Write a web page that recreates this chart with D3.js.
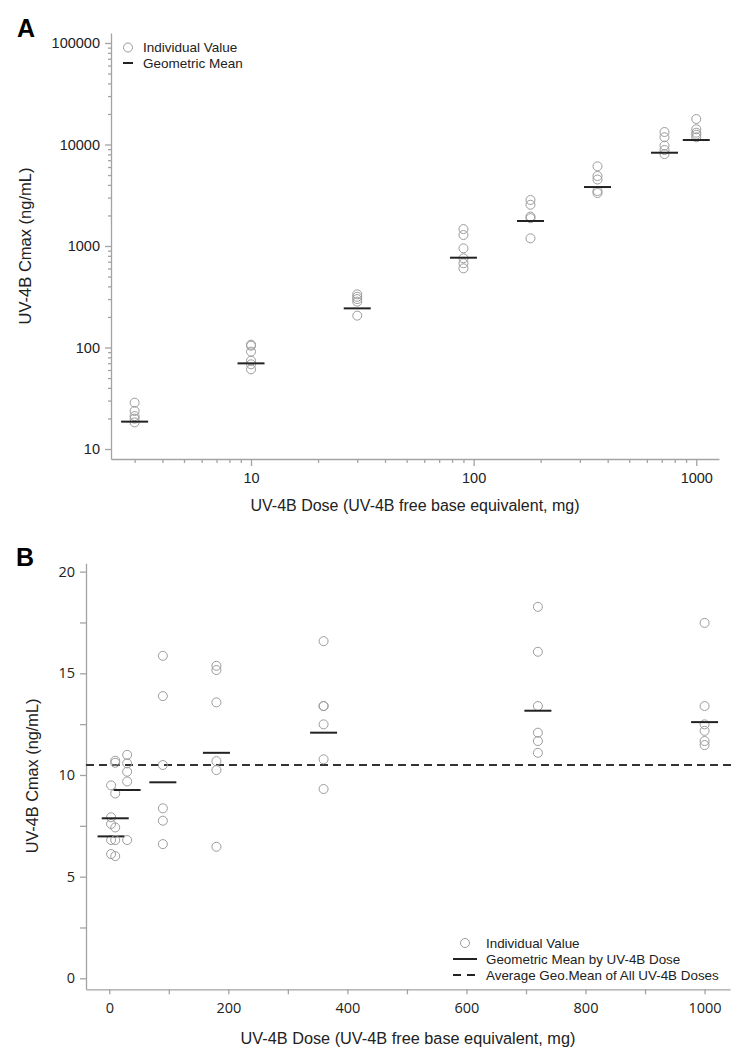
<!DOCTYPE html>
<html>
<head>
<meta charset="utf-8">
<script src="https://cdn.jsdelivr.net/npm/d3@7"></script>
<style>
  body { margin: 0; background: #fff; }
  svg { display: block; }
  .axA text { font-family: "Liberation Sans", Arial, sans-serif; font-size: 14.5px; fill: #222; }
  .axB text { font-family: "Open Sans", sans-serif; font-size: 14.5px; fill: #222; }
  .axis path, .axis line { stroke: #a3a3a3; stroke-width: 1.3; }
</style>
</head>
<body>
<svg id="chart" width="733" height="1059"></svg>
<script>
// doses (mg, free base equivalent)
const doses = [3, 10, 30, 90, 180, 360, 720, 1000];

// Panel A: Cmax individual values per dose (ng/mL), log scale
const cmaxA = [
    [28.6, 23.7, 21.1, 19.9, 18.3],
    [106.7, 104, 91, 74.1, 68.3, 60.9],
    [334, 316, 300, 283, 206],
    [1469, 1283, 948, 757, 676, 603],
    [2840, 2550, 1950, 1880, 1190],
    [6095, 4893, 4520, 3483, 3327],
    [13280, 11800, 9770, 8830, 8050],
    [17820, 14130, 13070, 12490, 11780]
];
const geoMeanA = [18.6, 69.8, 243, 767, 1763, 3811, 8300, 11070];

// Panel B: Cmax per dose, linear scale
const cmaxB = [
    [9.49, 7.92, 7.59, 6.80, 6.11],
    [10.70, 10.60, 9.09, 7.42, 6.80, 6.01],
    [10.99, 10.57, 10.16, 9.68, 6.80],
    [15.86, 13.88, 10.49, 8.36, 7.75, 6.60],
    [15.37, 15.16, 13.57, 10.68, 10.24, 6.47],
    [16.58, 13.39, 13.39, 12.49, 10.77, 9.31],
    [18.27, 16.06, 13.39, 12.08, 11.67, 11.09],
    [17.48, 13.39, 12.49, 12.17, 11.67, 11.47]
];
const geoMeanB = [6.98, 7.87, 9.26, 9.64, 11.09, 12.08, 13.16, 12.60];
const avgGeoMeanB = 10.49;

// tick labels
const yTicksA = [10, 100, 1000, 10000, 100000];
const xTicksA = [10, 100, 1000];
const xTicksB = [0, 200, 400, 600, 800, 1000];
const yTicksB = [0, 5, 10, 15, 20];

const xTitle = "UV-4B Dose (UV-4B free base equivalent, mg)";
const yTitle = "UV-4B Cmax (ng/mL)";

const svg = d3.select("#chart");
const circleColor = "#9c9c9c";
const barColor = "#222";
const sans = "Liberation Sans, Arial, sans-serif";

// minor ticks for log axes
const minorLog = (lo, hi) => {
    const out = [];
    for (let p = lo; p < hi; p *= 10)
        for (let k = 2; k <= 9; k++) out.push(p * k);
    return out;
};

// ---------------- Panel A ----------------
const xA = d3.scaleLog().domain([2.35, 1265]).range([111, 719]);
const yA = d3.scaleLog().domain([7.97, 125500]).range([459, 33]);

svg.append("text").attr("x", 17).attr("y", 37)
    .attr("font-family", sans)
    .attr("font-size", 25).attr("font-weight", "bold").text("A");

// y axis A
svg.append("g").attr("class", "axis axA")
    .attr("transform", "translate(111,0)")
    .call(d3.axisLeft(yA).tickValues(yTicksA).tickFormat(d3.format("d")).tickSize(6).tickPadding(5).tickSizeOuter(0));
svg.append("g").attr("class", "axis axA")
    .attr("transform", "translate(111,0)")
    .call(d3.axisLeft(yA).tickValues(minorLog(10, 100000)).tickFormat("").tickSize(3).tickSizeOuter(0))
    .select(".domain").remove();

// x axis A
svg.append("g").attr("class", "axis axA")
    .attr("transform", "translate(0,459)")
    .call(d3.axisBottom(xA).tickValues(xTicksA).tickFormat(d3.format("d")).tickSize(7).tickPadding(7).tickSizeOuter(0));
svg.append("g").attr("class", "axis axA")
    .attr("transform", "translate(0,459)")
    .call(d3.axisBottom(xA).tickValues(minorLog(1, 1000).filter(d => d >= 3 && d < 1000)).tickFormat("").tickSize(4).tickSizeOuter(0))
    .select(".domain").remove();

svg.append("text").attr("x", 415).attr("y", 511).attr("text-anchor", "middle")
    .attr("font-family", sans).attr("font-size", 16).attr("fill", "#222")
    .text(xTitle);
svg.append("text").attr("transform", "translate(31,246) rotate(-90)").attr("text-anchor", "middle")
    .attr("font-family", sans).attr("font-size", 16.5).attr("fill", "#222")
    .text(yTitle);

const gA = svg.append("g");
doses.forEach((dose, i) => {
    gA.selectAll(null).data(cmaxA[i]).join("circle")
        .attr("cx", xA(dose)).attr("cy", d => yA(d)).attr("r", 4.5)
        .attr("fill", "none").attr("stroke", circleColor).attr("stroke-width", 1);
    gA.append("line")
        .attr("x1", xA(dose) - 13.5).attr("x2", xA(dose) + 13.5)
        .attr("y1", yA(geoMeanA[i])).attr("y2", yA(geoMeanA[i]))
        .attr("stroke", barColor).attr("stroke-width", 2);
});

// legend A
const legA = svg.append("g").attr("font-family", sans).attr("font-size", 13.5).attr("fill", "#222");
legA.append("circle").attr("cx", 128).attr("cy", 47.5).attr("r", 4.5)
    .attr("fill", "none").attr("stroke", circleColor);
legA.append("text").attr("x", 143).attr("y", 52).text("Individual Value");
legA.append("line").attr("x1", 123).attr("x2", 133).attr("y1", 63).attr("y2", 63)
    .attr("stroke", barColor).attr("stroke-width", 2);
legA.append("text").attr("x", 143).attr("y", 68).text("Geometric Mean");

// ---------------- Panel B ----------------
const xB = d3.scaleLinear().domain([-39.1, 1042.7]).range([86, 730]);
const yB = d3.scaleLinear().domain([-0.54, 20.41]).range([989.3, 563.3]);

svg.append("text").attr("x", 16).attr("y", 566)
    .attr("font-family", sans)
    .attr("font-size", 25).attr("font-weight", "bold").text("B");

svg.append("g").attr("class", "axis axB")
    .attr("transform", "translate(86,0)")
    .call(d3.axisLeft(yB).tickValues(yTicksB).tickFormat(d3.format("d")).tickSize(6).tickPadding(5).tickSizeOuter(0));
svg.append("g").attr("class", "axis axB")
    .attr("transform", "translate(86,0)")
    .call(d3.axisLeft(yB).tickValues([2.5, 7.5, 12.5, 17.5]).tickFormat("").tickSize(6).tickSizeOuter(0))
    .select(".domain").remove();

svg.append("g").attr("class", "axis axB")
    .attr("transform", "translate(0,989.3)")
    .call(d3.axisBottom(xB).tickValues(xTicksB).tickFormat(d3.format("d")).tickSize(5).tickPadding(8).tickSizeOuter(0));
svg.append("g").attr("class", "axis axB")
    .attr("transform", "translate(0,989.3)")
    .call(d3.axisBottom(xB).tickValues([100, 300, 500, 700, 900]).tickFormat("").tickSize(5).tickSizeOuter(0))
    .select(".domain").remove();

svg.append("text").attr("x", 408).attr("y", 1044).attr("text-anchor", "middle")
    .attr("font-family", sans).attr("font-size", 16.3).attr("fill", "#222")
    .text(xTitle);
svg.append("text").attr("transform", "translate(38,776) rotate(-90)").attr("text-anchor", "middle")
    .attr("font-family", sans).attr("font-size", 16.3).attr("fill", "#222")
    .text(yTitle);

// average geometric mean of all doses
svg.append("line")
    .attr("x1", xB.range()[0]).attr("x2", 733)
    .attr("y1", yB(avgGeoMeanB)).attr("y2", yB(avgGeoMeanB))
    .attr("stroke", "#333").attr("stroke-width", 2).attr("stroke-dasharray", "8,5");

const gB = svg.append("g");
doses.forEach((dose, i) => {
    gB.selectAll(null).data(cmaxB[i]).join("circle")
        .attr("cx", xB(dose)).attr("cy", d => yB(d)).attr("r", 4.5)
        .attr("fill", "none").attr("stroke", circleColor).attr("stroke-width", 1);
    gB.append("line")
        .attr("x1", xB(dose) - 13.5).attr("x2", xB(dose) + 13.5)
        .attr("y1", yB(geoMeanB[i])).attr("y2", yB(geoMeanB[i]))
        .attr("stroke", barColor).attr("stroke-width", 2);
});

// legend B
const legB = svg.append("g").attr("font-family", sans).attr("font-size", 13.4).attr("fill", "#222");
legB.append("circle").attr("cx", 465).attr("cy", 943).attr("r", 4.5)
    .attr("fill", "none").attr("stroke", circleColor);
legB.append("text").attr("x", 486).attr("y", 948).text("Individual Value");
legB.append("line").attr("x1", 453).attr("x2", 477).attr("y1", 959).attr("y2", 959)
    .attr("stroke", barColor).attr("stroke-width", 2);
legB.append("text").attr("x", 486).attr("y", 964).text("Geometric Mean by UV-4B Dose");
legB.append("line").attr("x1", 453).attr("x2", 477).attr("y1", 975).attr("y2", 975)
    .attr("stroke", barColor).attr("stroke-width", 2).attr("stroke-dasharray", "8,6");
legB.append("text").attr("x", 486).attr("y", 980).text("Average Geo.Mean of All UV-4B Doses");
</script>
</body>
</html>
